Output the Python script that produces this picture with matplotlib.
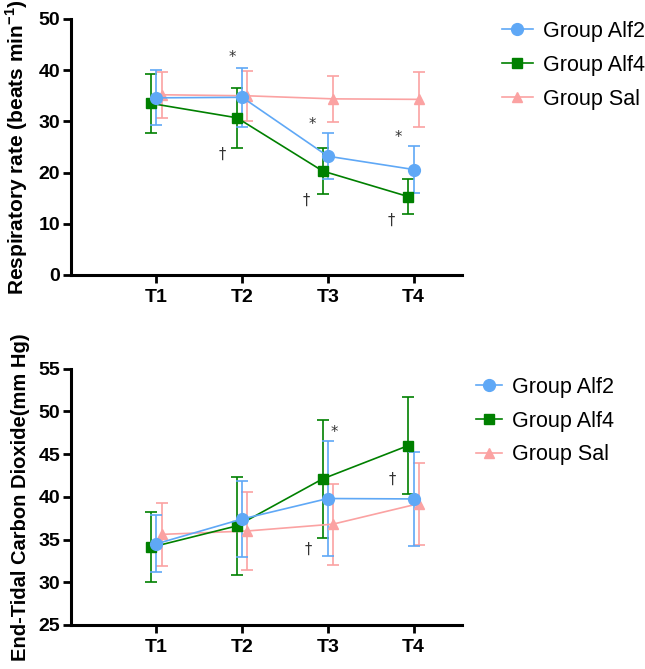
import matplotlib
matplotlib.use('Agg')
import matplotlib.pyplot as plt
from matplotlib.lines import Line2D
import numpy as np

plt.rcParams['font.family'] = ['Liberation Sans', 'DejaVu Sans']
plt.rcParams['mathtext.fontset'] = 'custom'
plt.rcParams['mathtext.rm'] = 'Liberation Sans:bold'
plt.rcParams['mathtext.bf'] = 'Liberation Sans:bold'

tiempos = ['T1', 'T2', 'T3', 'T4']
grupos = ['Group Alf2', 'Group Alf4', 'Group Sal']

# frecuencia respiratoria (media, DE)
fr_alf2 = [34.6, 34.7, 23.2, 20.6]
fr_alf2_de = [5.4, 5.7, 4.5, 4.5]
fr_alf4 = [33.5, 30.7, 20.3, 15.3]
fr_alf4_de = [5.7, 5.9, 4.5, 3.4]
fr_sal = [35.2, 35.0, 34.4, 34.3]
fr_sal_de = [4.5, 4.9, 4.5, 5.3]

# CO2 espirado
co2_alf2 = [34.5, 37.4, 39.8, 39.75]
co2_alf2_de = [3.35, 4.4, 6.7, 5.5]
co2_alf4 = [34.1, 36.6, 42.1, 46.0]
co2_alf4_de = [4.1, 5.7, 6.9, 5.65]
co2_sal = [35.6, 36.0, 36.8, 39.2]
co2_sal_de = [3.65, 4.6, 4.75, 4.8]

# marcas de significancia (x, y, simbolo)
marcas_fr = [(1.88, 42.4, '*'), (1.77, 23.6, '†'), (2.82, 29.3, '*'), (2.75, 14.6, '†'),
             (3.82, 26.8, '*'), (3.74, 10.7, '†')]
marcas_co2 = [(3.07, 47.5, '*'), (2.77, 33.8, '†'), (3.75, 42.1, '†')]

colores = {'Group Alf2': '#5FA8F6', 'Group Alf4': '#008000', 'Group Sal': '#FBA2A2'}
marcadores = {'Group Alf2': ('o', 8.5), 'Group Alf4': ('s', 7), 'Group Sal': ('^', 7.5)}
desplaz = {'Group Alf2': 0.0, 'Group Alf4': -0.06, 'Group Sal': 0.06}


def panel(ax, datos, marcas, ylim, yticks, ylabel, ysize):
	x = np.arange(1, len(tiempos) + 1)
	for g in ['Group Sal', 'Group Alf4', 'Group Alf2']:
		m, ms = marcadores[g]
		media, de = datos[g]
		ax.errorbar(x + desplaz[g], media, yerr=de, color=colores[g], marker=m, markersize=ms,
			linewidth=1.2, elinewidth=1.2, capsize=4, capthick=1.2)
	for (mx, my, s) in marcas:
		ax.text(mx, my, s, ha='center', va='center', fontsize=10.5, color='#333333',
			family=['DejaVu Sans'])
	ax.set_xlim(0, 4.56)
	ax.set_ylim(*ylim)
	ax.set_yticks(yticks)
	ax.set_xticks(x)
	ax.set_xticklabels(tiempos)
	for lab in ax.get_xticklabels() + ax.get_yticklabels():
		lab.set_fontweight('bold')
		lab.set_fontsize(14)
	ax.spines['top'].set_visible(False)
	ax.spines['right'].set_visible(False)
	ax.spines['left'].set_linewidth(2.2)
	ax.spines['bottom'].set_linewidth(2.2)
	ax.tick_params(axis='both', length=6, width=2)
	ax.tick_params(axis='y', pad=1.5)
	ax.tick_params(axis='x', pad=4)
	ax.set_ylabel(ylabel, fontsize=ysize, fontweight='bold')
	ax.yaxis.set_label_coords(-0.105, 0.5)


fig = plt.figure(figsize=(6.45, 6.69), dpi=100)
ax1 = fig.add_axes([0.1096, 0.589, 0.606, 0.3826])
ax2 = fig.add_axes([0.1096, 0.0658, 0.606, 0.3832])

panel(ax1, {'Group Alf2': (fr_alf2, fr_alf2_de), 'Group Alf4': (fr_alf4, fr_alf4_de),
	'Group Sal': (fr_sal, fr_sal_de)}, marcas_fr, (0, 50), [0, 10, 20, 30, 40, 50],
	r'Respiratory rate (beats min$^{\mathbf{-1}}$)', 15)
panel(ax2, {'Group Alf2': (co2_alf2, co2_alf2_de), 'Group Alf4': (co2_alf4, co2_alf4_de),
	'Group Sal': (co2_sal, co2_sal_de)}, marcas_co2, (25, 55), [25, 30, 35, 40, 45, 50, 55],
	'End-Tidal Carbon Dioxide(mm Hg)', 14.5)

manejadores = [Line2D([], [], color=colores[g], marker=marcadores[g][0],
	markersize=marcadores[g][1], linewidth=1.2) for g in grupos]
for pos, hl in [((0.778, 0.969), 1.45), ((0.738, 0.437), 1.2)]:
	fig.legend(manejadores, grupos, loc='upper left', bbox_to_anchor=pos, frameon=False,
		fontsize=15.5, borderpad=0, borderaxespad=0, handlelength=hl, handletextpad=0.47,
		labelspacing=0.6)

plt.savefig('out.png', dpi=100)
